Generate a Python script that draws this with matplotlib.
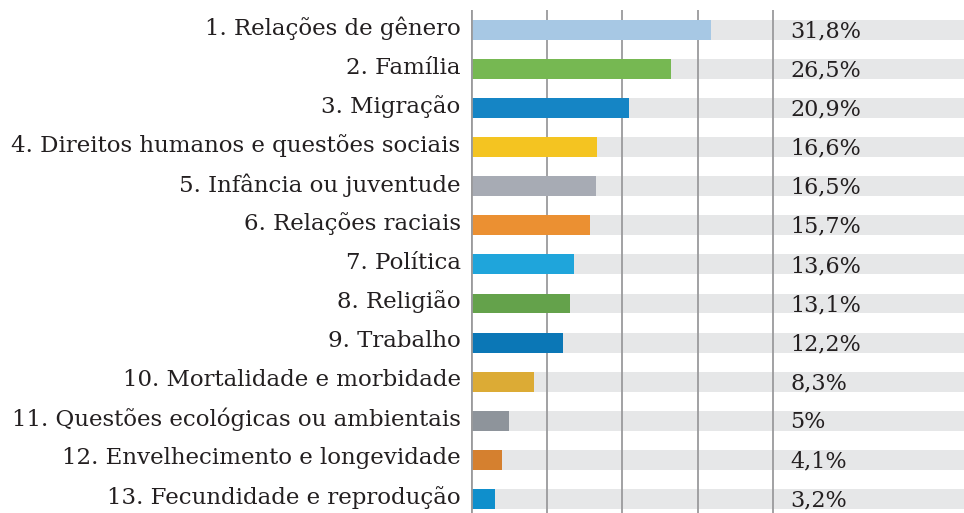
import matplotlib
matplotlib.use('Agg')
import matplotlib.pyplot as plt
import matplotlib.transforms as mtransforms

categories = ['1. Relações de gênero', '2. Família', '3. Migração',
              '4. Direitos humanos e questões sociais', '5. Infância ou juventude',
              '6. Relações raciais', '7. Política', '8. Religião', '9. Trabalho',
              '10. Mortalidade e morbidade', '11. Questões ecológicas ou ambientais',
              '12. Envelhecimento e longevidade', '13. Fecundidade e reprodução']
values = [31.8, 26.5, 20.9, 16.6, 16.5, 15.7, 13.6, 13.1, 12.2, 8.3, 5, 4.1, 3.2]
value_labels = ['31,8%', '26,5%', '20,9%', '16,6%', '16,5%', '15,7%', '13,6%',
                '13,1%', '12,2%', '8,3%', '5%', '4,1%', '3,2%']
colors = ['#a7c8e4', '#76b852', '#1585c5', '#f4c421', '#a7abb4', '#eb9032',
          '#1fa5db', '#64a24b', '#0b77b6', '#dcab35', '#8e949b', '#d5802f', '#0f8fcc']

xmax = 65.2
text_color = '#231f20'

fig = plt.figure(figsize=(9.64, 5.13), dpi=100)
ax = fig.add_axes([471 / 964, 0, 1 - 471 / 964, 503 / 513])

y = list(range(len(categories)))
ax.barh(y, [xmax] * len(y), height=0.51, color='#e6e7e8', zorder=1)
ax.barh(y, values, height=0.51, color=colors, zorder=3)

for gx in [10, 20, 30, 40]:
    ax.axvline(gx, color='#9a9a9c', lw=1.3, zorder=2)
ax.axvline(0, color='#9a9a9c', lw=2, zorder=4)

for i, lab in enumerate(value_labels):
    ax.text(42.2, i + 0.04, lab, va='center', ha='left', fontsize=16,
            family='DejaVu Serif', color=text_color, zorder=5)

ax.set_xlim(0, xmax)
ax.set_ylim(12.36, -0.51)
ax.set_yticks(y)
ax.set_yticklabels(categories, fontsize=16.5, family='DejaVu Serif', color=text_color)
ax.tick_params(axis='y', length=0, pad=7.5)
shift = mtransforms.ScaledTranslation(0, 4 / 100, fig.dpi_scale_trans)
for t in ax.get_yticklabels():
    t.set_transform(t.get_transform() + shift)
ax.set_xticks([])
for s in ax.spines.values():
    s.set_visible(False)

fig.savefig('out.png', dpi=100)
